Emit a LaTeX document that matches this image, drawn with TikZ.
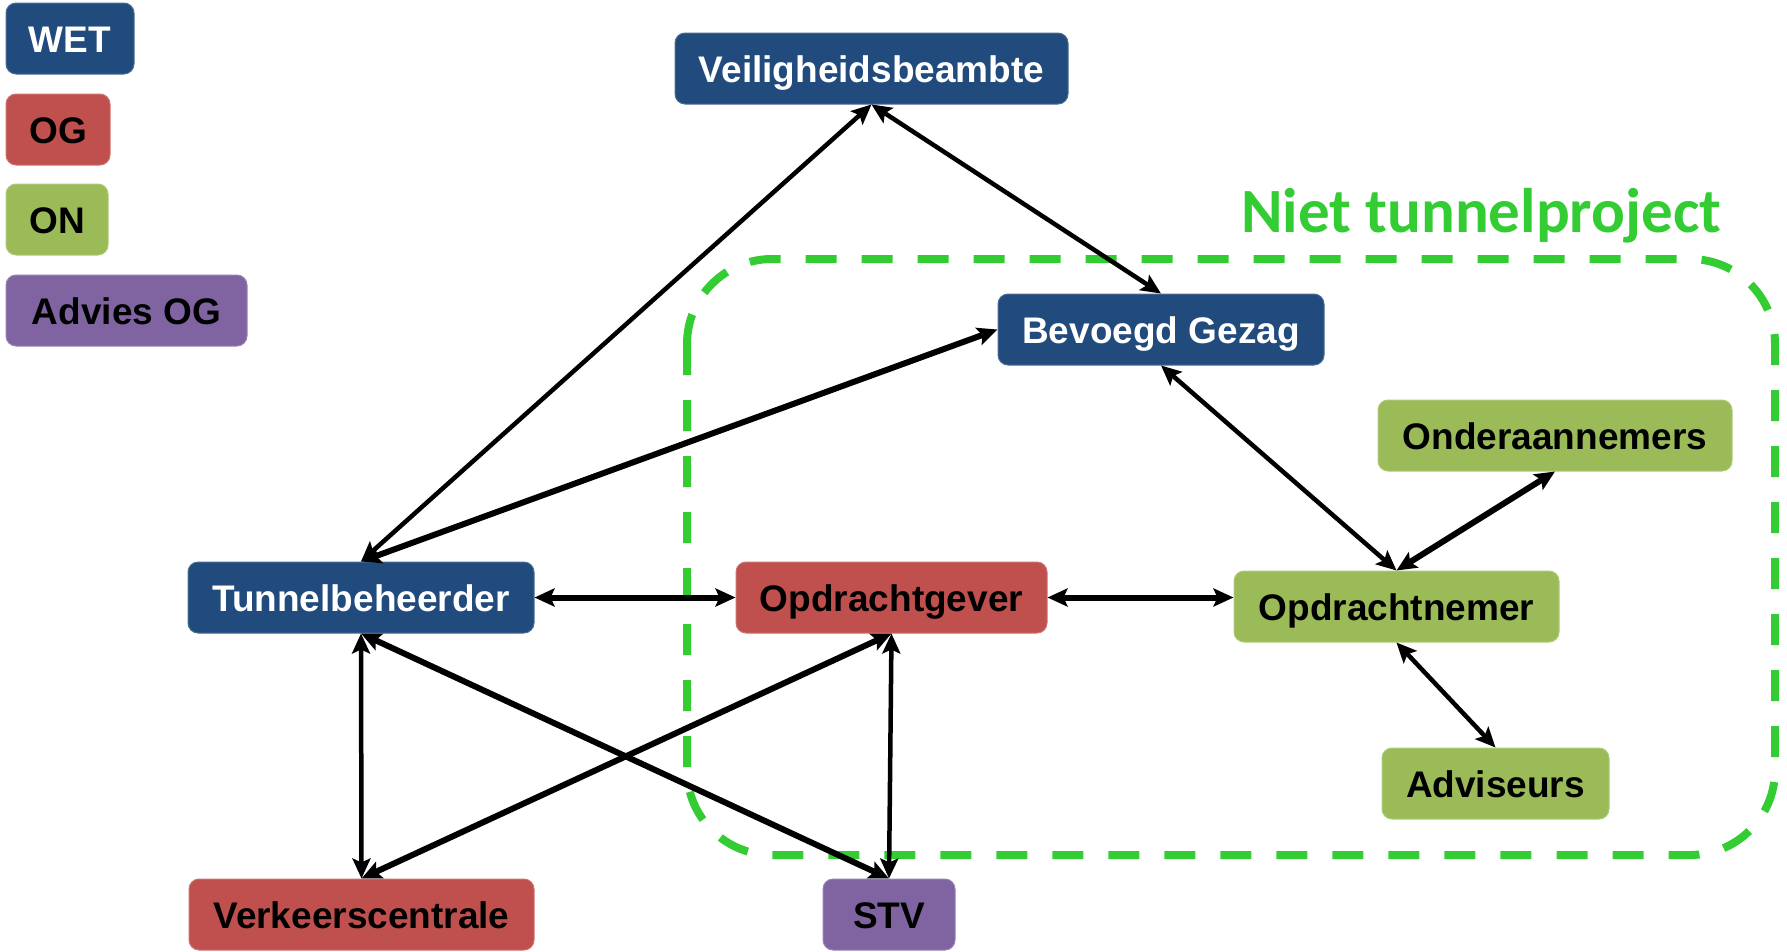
\documentclass[tikz,border=0pt]{standalone}
\usepackage{fontspec}
\setmainfont{Liberation Sans}
\newfontfamily\calib{Carlito}
\usetikzlibrary{arrows.meta}
\definecolor{wetblue}{RGB}{33,74,125}
\definecolor{ogred}{RGB}{192,80,77}
\definecolor{ongreen}{RGB}{155,187,89}
\definecolor{advpurple}{RGB}{128,100,162}
\definecolor{dashgreen}{RGB}{51,204,51}
\tikzset{
  box/.style={rectangle, rounded corners=10pt, inner sep=0pt, minimum height=71pt,
    text height=27pt, text depth=0pt,
    font=\fontsize{37}{44}\selectfont\bfseries, align=center},
  wet/.style={box, fill=wetblue, draw=wetblue!80!white, line width=1pt, text=white},
  og/.style={box, fill=ogred, draw=ogred!80!white, line width=1pt, text=black},
  on/.style={box, fill=ongreen, draw=ongreen!80!white, line width=1pt, text=black},
  adv/.style={box, fill=advpurple, draw=advpurple!80!white, line width=1pt, text=black},
  conn/.style={line width=4.5pt, black, {Stealth[length=20pt,width=18pt,inset=4pt]}-{Stealth[length=20pt,width=18pt,inset=4pt]}},
  connthick/.style={conn, line width=6pt},
  region/.style={draw=dashgreen, line width=8pt, dash pattern=on 31pt off 25pt, rounded corners=85pt}
}
\begin{document}
\begin{tikzpicture}[x=1pt,y=-1pt]
\useasboundingbox (0,0) rectangle (1787,951);
% dashed region
\draw[region] (687,259) rectangle (1775,855);
\node[anchor=base west, inner sep=0pt, text=dashgreen, font=\calib\fontsize{63}{70}\selectfont\bfseries] (nt) at (1241,232) {Niet tunnelproject};
% legend
\node[wet, minimum width=128pt] (lwet) at (70,38.5) {WET};
\node[og, minimum width=104pt] (log) at (58,129.5) {OG};
\node[on, minimum width=102pt] (lon) at (57,219.5) {ON};
\node[adv, minimum width=241pt] (ladv) at (126.5,310.5) {Advies OG};
% nodes
\node[wet, minimum width=393pt] (veil) at (871.5,68.5) {Veiligheidsbeambte};
\node[wet, minimum width=326pt] (bg) at (1161,329.5) {Bevoegd Gezag};
\node[wet, minimum width=346pt] (tb) at (361,597.5) {Tunnelbeheerder};
\node[og, minimum width=311pt] (ogv) at (891.5,597.5) {Opdrachtgever};
\node[on, minimum width=325pt] (onm) at (1396.5,606.5) {Opdrachtnemer};
\node[on, minimum width=354pt] (oa) at (1555,435.5) {Onderaannemers};
\node[on, minimum width=227pt] (adv) at (1495.5,783.5) {Adviseurs};
\node[og, minimum width=345pt] (vc) at (361.5,914.5) {Verkeerscentrale};
\node[adv, minimum width=132pt] (stv) at (889,914.5) {STV};
% connectors
\draw[conn] (veil.south) -- (tb.north);
\draw[conn] (veil.south) -- (bg.north);
\draw[connthick] (tb.north) -- (bg.west);
\draw[connthick] (tb.east) -- (ogv.west);
\draw[connthick] (ogv.east) -- (ogv.east -| onm.west);
\draw[conn] (bg.south) -- (onm.north);
\draw[connthick] (oa.south) -- (onm.north);
\draw[conn] (onm.south) -- (adv.north);
\draw[conn] (tb.south) -- (vc.north);
\draw[connthick] (tb.south) -- (stv.north);
\draw[connthick] (ogv.south) -- (vc.north);
\draw[conn] (ogv.south) -- (stv.north);
\end{tikzpicture}
\end{document}
